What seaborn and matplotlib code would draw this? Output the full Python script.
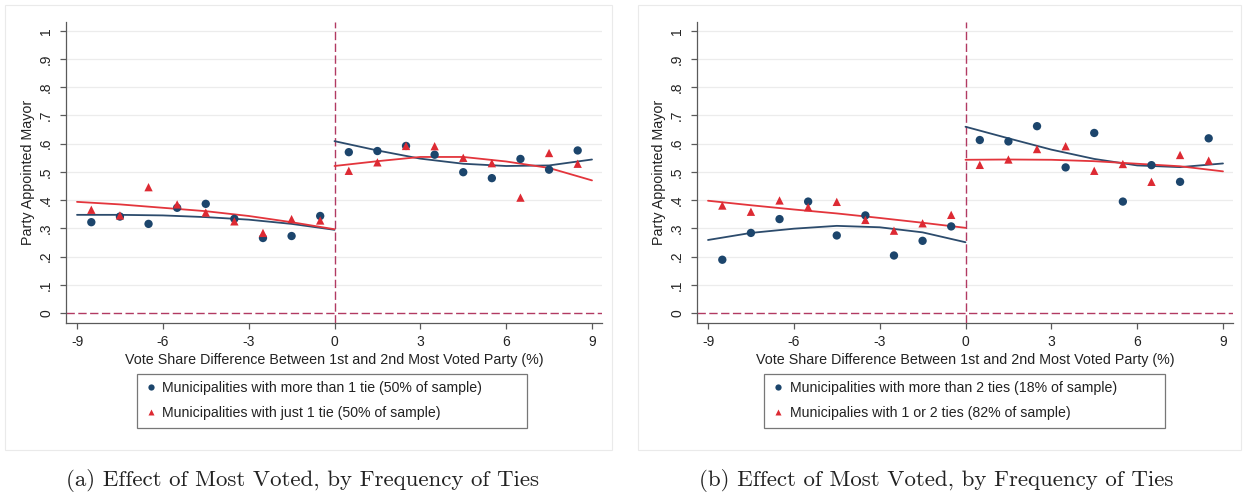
import numpy as np
import pandas as pd
import seaborn as sns
import matplotlib
matplotlib.use("Agg")
import matplotlib.pyplot as plt
from matplotlib.lines import Line2D
from matplotlib.patches import Rectangle

# ---- bin centres (vote share difference, %) ----
bins_x = [-8.5, -7.5, -6.5, -5.5, -4.5, -3.5, -2.5, -1.5, -0.5,
          0.5, 1.5, 2.5, 3.5, 4.5, 5.5, 6.5, 7.5, 8.5]

# ---- panel (a): binned means ----
a_more = [0.322, 0.342, 0.316, 0.373, 0.387, 0.334, 0.266, 0.273, 0.344,
          0.570, 0.574, 0.592, 0.561, 0.499, 0.478, 0.546, 0.508, 0.576]
a_just = [0.366, 0.346, 0.446, 0.385, 0.356, 0.325, 0.284, 0.333, 0.328,
          0.504, 0.534, 0.592, 0.591, 0.550, 0.531, 0.409, 0.567, 0.529]

# ---- panel (b): binned means ----
b_more = [0.189, 0.284, 0.333, 0.395, 0.275, 0.346, 0.204, 0.256, 0.307,
          0.613, 0.608, 0.662, 0.516, 0.638, 0.395, 0.524, 0.465, 0.619]
b_few = [0.381, 0.359, 0.399, 0.375, 0.394, 0.330, 0.292, 0.318, 0.348,
         0.525, 0.544, 0.581, 0.591, 0.504, 0.528, 0.465, 0.560, 0.540]

# ---- fitted quadratic curves, evaluated on each side of the cutoff ----
fit_x_left = [-9, -7.5, -6, -4.5, -3, -1.5, 0]
fit_x_right = [0, 1.5, 3, 4.5, 6, 7.5, 9]

a_more_fit_left = [0.348, 0.348, 0.346, 0.340, 0.331, 0.316, 0.295]
a_more_fit_right = [0.609, 0.576, 0.547, 0.529, 0.521, 0.523, 0.544]
a_just_fit_left = [0.394, 0.385, 0.373, 0.361, 0.344, 0.322, 0.297]
a_just_fit_right = [0.521, 0.538, 0.553, 0.553, 0.537, 0.514, 0.470]

b_more_fit_left = [0.259, 0.284, 0.299, 0.309, 0.304, 0.286, 0.251]
b_more_fit_right = [0.660, 0.619, 0.579, 0.546, 0.523, 0.517, 0.530]
b_few_fit_left = [0.398, 0.382, 0.367, 0.353, 0.337, 0.320, 0.302]
b_few_fit_right = [0.543, 0.544, 0.543, 0.538, 0.529, 0.520, 0.502]

# ---- labels ----
a_labels = ["Municipalities with more than 1 tie (50% of sample)",
            "Municipalities with just 1 tie (50% of sample)"]
b_labels = ["Municipalities with more than 2 ties (18% of sample)",
            "Municipalies with 1 or 2 ties (82% of sample)"]
captions = ["(a) Effect of Most Voted, by Frequency of Ties",
            "(b) Effect of Most Voted, by Frequency of Ties"]
x_ticks = [-9, -6, -3, 0, 3, 6, 9]
y_ticks = [0, 0.1, 0.2, 0.3, 0.4, 0.5, 0.6, 0.7, 0.8, 0.9, 1.0]
y_ticklabels = ["0", ".1", ".2", ".3", ".4", ".5", ".6", ".7", ".8", ".9", "1"]
x_title = "Vote Share Difference Between 1st and 2nd Most Voted Party (%)"
y_title = "Party Appointed Mayor"

NAVY = "#1c456c"
RED = "#dd2a33"
NAVY_LINE = "#2c4b6c"
RED_LINE = "#e3353c"
CUT = "#b23a62"

sns.set_theme(style="white")
plt.rcParams["font.family"] = ["Liberation Sans", "DejaVu Sans"]

W, H = 1245, 495
fig = plt.figure(figsize=(W / 100, H / 100), dpi=100)
fig.patch.set_facecolor("white")


def scatter_frame(y1, y2, labels):
    return pd.DataFrame({
        "x": bins_x * 2,
        "y": list(y1) + list(y2),
        "group": [labels[0]] * len(bins_x) + [labels[1]] * len(bins_x),
    })


def fit_frame(l1, r1, l2, r2, labels):
    rows = []
    for lab, left, right in ((labels[0], l1, r1), (labels[1], l2, r2)):
        for xv, yv in zip(fit_x_left, left):
            rows.append((xv, yv, lab, "left"))
        for xv, yv in zip(fit_x_right, right):
            rows.append((xv, yv, lab, "right"))
    return pd.DataFrame(rows, columns=["x", "y", "group", "side"])


def draw_panel(left_px, pts, fits, labels, leg_px, caption, caption_px, frame_px):
    ax = fig.add_axes([left_px / W, (H - 323) / H, 536 / W, 301.3 / H])
    ax.set_xlim(-9.385, 9.35)
    ax.set_ylim(-0.035, 1.032)

    # light horizontal grid
    for yv in y_ticks[1:]:
        ax.axhline(yv, color="#ececec", lw=0.9, zorder=0)

    palette = {labels[0]: NAVY_LINE, labels[1]: RED_LINE}
    sns.lineplot(data=fits, x="x", y="y", hue="group", units="side",
                 estimator=None, palette=palette, lw=1.3, legend=False,
                 ax=ax, zorder=2, sort=False)

    sns.scatterplot(data=pts, x="x", y="y", hue="group", style="group",
                    palette={labels[0]: NAVY, labels[1]: RED},
                    markers={labels[0]: "o", labels[1]: "^"},
                    s=36, edgecolor="none", linewidth=0, legend=False,
                    ax=ax, zorder=3)

    # cutoff reference lines
    ax.axvline(0, color=CUT, lw=1.0, dashes=(6, 2.5), zorder=1)
    ax.axhline(0, color=CUT, lw=1.0, dashes=(6, 2.5), zorder=1)

    for side in ("top", "right"):
        ax.spines[side].set_visible(False)
    for side in ("left", "bottom"):
        ax.spines[side].set_color("#5a5a5a")
        ax.spines[side].set_linewidth(0.9)

    ax.set_xticks(x_ticks)
    ax.set_xticklabels([str(v) for v in x_ticks])
    ax.set_yticks(y_ticks)
    ax.set_yticklabels(y_ticklabels, rotation=90, va="center")
    ax.tick_params(axis="both", which="both", direction="out", length=4.3,
                   width=0.9, color="#5a5a5a", labelsize=10,
                   labelcolor="#222222", left=True, bottom=True)
    ax.tick_params(axis="x", pad=4)
    ax.tick_params(axis="y", pad=5)
    ax.set_xlabel(x_title, fontsize=10.3, color="#222222", labelpad=3)
    ax.set_ylabel(y_title, fontsize=10.3, color="#222222", labelpad=3)

    handles = [
        Line2D([], [], ls="none", marker="o", ms=4.5, color=NAVY, mec="none"),
        Line2D([], [], ls="none", marker="^", ms=5.0, color=RED, mec="none"),
    ]
    x0 = (leg_px[0] - left_px) / 536
    wl = (leg_px[1] - leg_px[0]) / 536
    ytop = (323 - 374) / 301.3
    leg = ax.legend(handles, labels, loc="upper left", mode="expand",
                    bbox_to_anchor=(x0, ytop - 0.2, wl, 0.2),
                    borderaxespad=0, frameon=True, fancybox=False,
                    fontsize=10.2, handletextpad=0.3, handlelength=1.0,
                    labelspacing=0.8, borderpad=0.5, labelcolor="#222222")
    leg.get_frame().set_edgecolor("#555555")
    leg.get_frame().set_linewidth(0.9)

    fig.patches.append(Rectangle((frame_px[0] / W, (H - 450) / H),
                                 (frame_px[1] - frame_px[0]) / W, 445 / H,
                                 transform=fig.transFigure, fill=False,
                                 edgecolor="#eaeaea", lw=0.8, zorder=0))
    fig.text(caption_px / W, 1 - 480 / H, caption, ha="center", va="center",
             fontsize=16.5, family="cmr10", color="#222222")
    return ax


draw_panel(66, scatter_frame(a_more, a_just, a_labels),
           fit_frame(a_more_fit_left, a_more_fit_right,
                     a_just_fit_left, a_just_fit_right, a_labels),
           a_labels, (137, 527), captions[0], 302, (5, 612))
draw_panel(697, scatter_frame(b_more, b_few, b_labels),
           fit_frame(b_more_fit_left, b_more_fit_right,
                     b_few_fit_left, b_few_fit_right, b_labels),
           b_labels, (764, 1165), captions[1], 936, (638, 1241))

fig.savefig("out.png", dpi=100, facecolor="white")
